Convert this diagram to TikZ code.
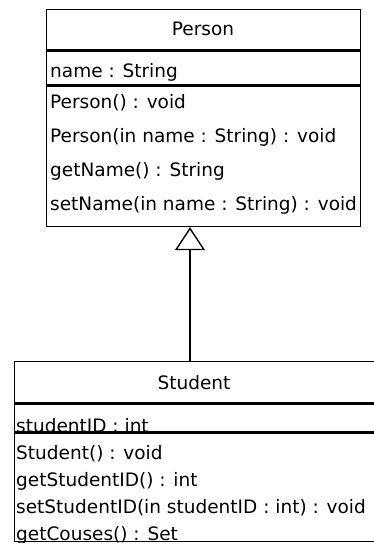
\documentclass[tikz,border=0pt]{standalone}
\usepackage{fontspec}
\setmainfont{DejaVu Sans}
\usetikzlibrary{positioning,arrows.meta}

\begin{document}
\begin{tikzpicture}[%
x=1pt, y=-1pt,
>={Triangle[open,length=23pt,width=30pt]},
compartment/.style={draw, line width=1.4pt, inner sep=0pt},
member/.style={anchor=base west, inner sep=0pt, font=\fontsize{18.5}{20}\selectfont},
classname/.style={member, anchor=base}
]
\useasboundingbox (0,0) rectangle (374,545);
\clip (0,0) rectangle (374,545);

% Person
\node[compartment, anchor=north west, minimum width=314pt, minimum height=40pt] (person) at (46,9) {};
\node[compartment, minimum width=314pt, minimum height=34pt, below=0pt of person] (person-attr) {};
\node[compartment, minimum width=314pt, minimum height=140pt, below=0pt of person-attr] (person-ops) {};

\node[classname] (person-label) at (203,36) {Person};
\node[member] (person-a1) at (50,78) {name : String};
\node[member] (person-o1) at (50,109) {Person() : void};
\node[member] (person-o2) at (50,143) {Person(in name : String) : void};
\node[member] (person-o3) at (50,177) {getName() : String};
\node[member] (person-o4) at (50,211) {setName(in name : String) : void};

% Student
\node[compartment, anchor=north west, minimum width=361pt, minimum height=41pt] (student) at (14,361) {};
\node[compartment, minimum width=361pt, minimum height=28pt, below=0pt of student] (student-attr) {};
\node[compartment, minimum width=361pt, minimum height=108pt, below=0pt of student-attr] (student-ops) {};

\node[classname] (student-label) at (194,389) {Student};
\begin{scope}
\clip (student-attr.north west) rectangle (student-attr.south east);
\node[member] (student-a1) at (16,432) {studentID : int};
\end{scope}
\begin{scope}
\clip (student-ops.north west) rectangle (student-ops.south east);
\node[member] (student-o1) at (16,459) {Student() : void};
\node[member] (student-o2) at (16,486) {getStudentID() : int};
\node[member] (student-o3) at (16,513) {setStudentID(in studentID : int) : void};
\node[member] (student-o4) at (16,540) {getCouses() : Set};
\end{scope}

% generalization
\coordinate (gen) at (190,0);
\draw[->, line width=1.4pt] (student.north -| gen) -- (person-ops.south -| gen);

\end{tikzpicture}
\end{document}
